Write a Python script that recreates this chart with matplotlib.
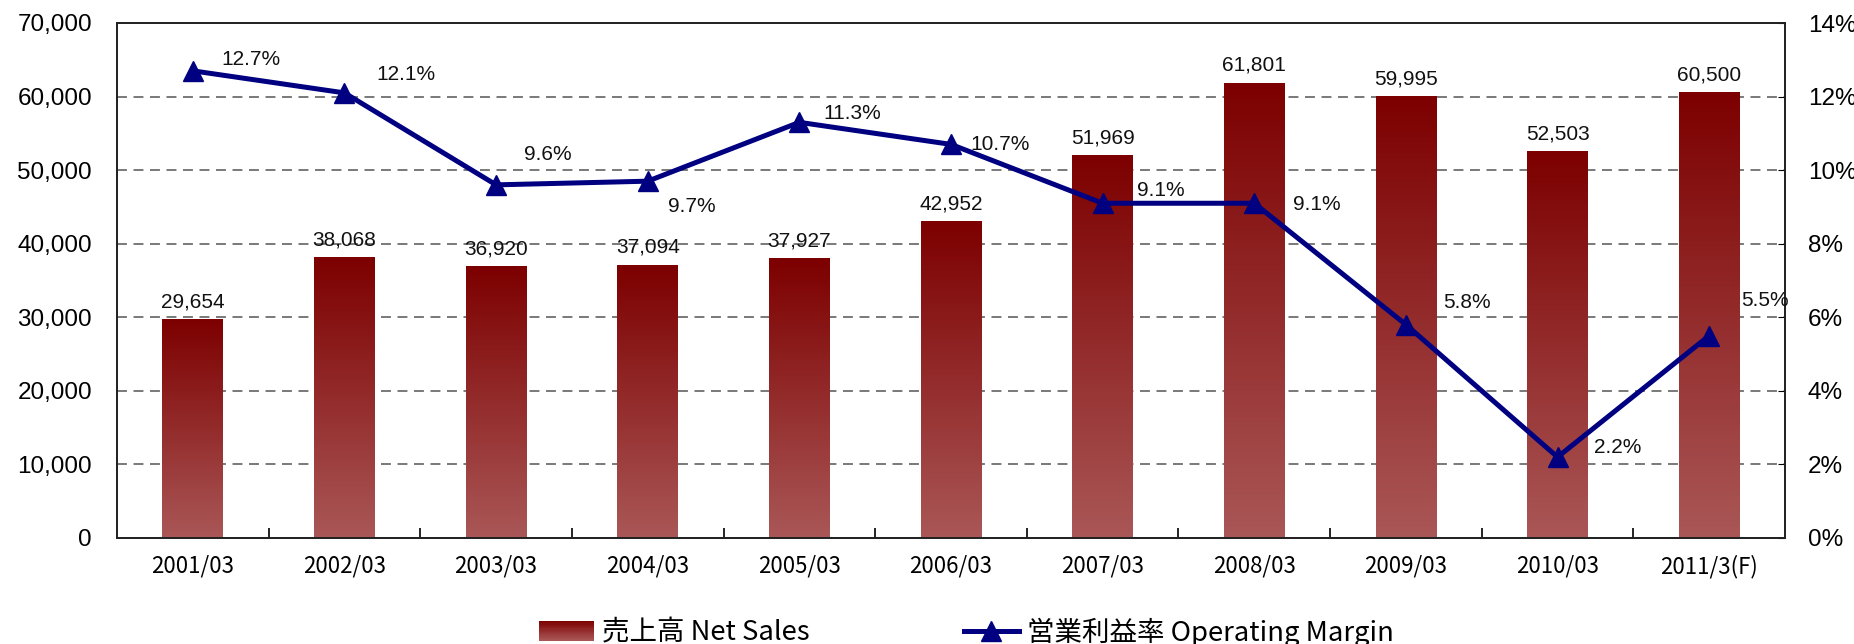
import numpy as np
import matplotlib
matplotlib.use("Agg")
import matplotlib.pyplot as plt
from matplotlib.colors import LinearSegmentedColormap
from matplotlib.lines import Line2D
from matplotlib.patches import Rectangle
from matplotlib.legend_handler import HandlerBase

plt.rcParams['font.family'] = ['Noto Sans CJK JP', 'DejaVu Sans']
NARROW = ['Liberation Sans Narrow', 'Liberation Sans', 'DejaVu Sans']
ARIAL = ['Liberation Sans', 'DejaVu Sans']

categories = ["2001/03", "2002/03", "2003/03", "2004/03", "2005/03", "2006/03",
              "2007/03", "2008/03", "2009/03", "2010/03", "2011/3(F)"]
net_sales = [29654, 38068, 36920, 37094, 37927, 42952, 51969, 61801, 59995, 52503, 60500]
op_margin = [12.7, 12.1, 9.6, 9.7, 11.3, 10.7, 9.1, 9.1, 5.8, 2.2, 5.5]
sales_label = "売上高 Net Sales"
margin_label = "営業利益率 Operating Margin"
left_ticks = [0, 10000, 20000, 30000, 40000, 50000, 60000, 70000]
right_ticks = [0, 2, 4, 6, 8, 10, 12, 14]

# label offsets (points) for margin labels
margin_offsets = [(42, 8), (44, 13), (37, 22), (32, -18), (38, 6), (35, 0),
                  (42, 9), (45, -1), (44, 16), (43, 7), (40, 25)]

bar_top = "#7d0000"
bar_bottom = "#aa5757"
line_color = "#000080"
cmap = LinearSegmentedColormap.from_list("barg", [bar_bottom, bar_top])

fig = plt.figure(figsize=(18.54, 6.44), dpi=100)
ax = fig.add_axes([117 / 1854, 1 - 538 / 644, (1785 - 117) / 1854, (538 - 23) / 644])
x = np.arange(len(categories))
bars = ax.bar(x, net_sales, width=0.4, color="none", edgecolor="none", zorder=2)
grad = np.linspace(0, 1, 256).reshape(-1, 1)
for b in bars:
    bx, by = b.get_xy()
    w, h = b.get_width(), b.get_height()
    ax.imshow(grad, extent=[bx, bx + w, by, by + h], origin="lower",
              aspect="auto", cmap=cmap, zorder=2)
for xi, v in zip(x, net_sales):
    ax.annotate(f"{v:,}", (xi, v), xytext=(0, 6), textcoords="offset points",
                ha="center", va="bottom", fontsize=15, family=NARROW,
                color="#111111", zorder=3)

ax.set_xlim(-0.5, len(categories) - 0.5)
ax.set_ylim(left_ticks[0], left_ticks[-1])
ax.set_yticks(left_ticks)
ax.set_yticklabels([f"{t:,}" for t in left_ticks], fontsize=17.5, family=ARIAL)
ax.set_xticks(x)
ax.set_xticklabels(categories, fontsize=16)
ax.set_xticks(np.arange(0.5, len(categories) - 1, 1), minor=True)
ax.tick_params(axis="x", which="major", length=0, pad=12)
ax.tick_params(axis="x", which="minor", direction="in", length=7, width=1.2)
ax.tick_params(axis="y", length=0, pad=18)
for yv in left_ticks[1:-1]:
    ax.axhline(yv, color="#555555", lw=1.1, dashes=(6.5, 4.3), zorder=1)
for s in ax.spines.values():
    s.set_linewidth(1.3)
    s.set_color("#222222")

ax2 = ax.twinx()
ax2.set_ylim(right_ticks[0], right_ticks[-1])
ax2.set_yticks(right_ticks)
ax2.set_yticklabels([f"{t}%" for t in right_ticks], fontsize=17.5, family=NARROW)
ax2.tick_params(axis="y", direction="in", length=5, pad=16.5)
ax2.plot(x, op_margin, color=line_color, lw=3.6, marker="^", markersize=15,
         zorder=5)
for xi, v, off in zip(x, op_margin, margin_offsets):
    ax2.annotate(f"{v}%", (xi, v), xytext=off, textcoords="offset points",
                 ha="center", va="center", fontsize=15, family=NARROW,
                 color="#111111")
for s in ax2.spines.values():
    s.set_linewidth(1.3)
    s.set_color("#222222")


class GradHandler(HandlerBase):
    def create_artists(self, legend, orig_handle, xdescent, ydescent,
                       width, height, fontsize, trans):
        arts = []
        n = 16
        y0 = -ydescent
        for i in range(n):
            c = cmap(1 - (i + 0.5) / n)
            r = Rectangle((-xdescent, y0 + height * (n - 1 - i) / n), width,
                          height / n + 0.3, facecolor=c, edgecolor="none",
                          transform=trans)
            arts.append(r)
        return arts


sales_handle = Rectangle((0, 0), 1, 1)
margin_handle = Line2D([], [], color=line_color, lw=3.6, marker="^", markersize=14)
leg = fig.legend([sales_handle, margin_handle], [sales_label, margin_label],
                 handler_map={Rectangle: GradHandler()},
                 loc="center left", bbox_to_anchor=(539 / 1854, 1 - 632 / 644),
                 borderaxespad=0, borderpad=0, ncol=2,
                 frameon=False, fontsize=19.8, handlelength=2.0,
                 handletextpad=0.3, columnspacing=5.6)

fig.savefig("out.png", dpi=100)
